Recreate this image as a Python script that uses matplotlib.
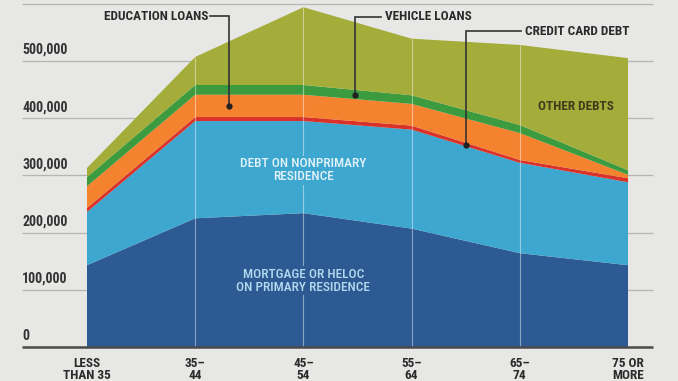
import numpy as np
import matplotlib
matplotlib.use("Agg")
import matplotlib.pyplot as plt
from matplotlib import font_manager

# ---- data (thousands of dollars) ----
ages = ["LESS\nTHAN 35", "35–\n44", "45–\n54", "55–\n64", "65–\n74", "75 OR\nMORE"]
mortgage = [143, 225, 234, 207, 164, 143]
nonprimary = [93, 170, 161, 173, 158, 145]
credit_card = [7, 7, 7, 7, 5, 7]
education = [38, 39, 39, 38, 47, 6]
vehicle = [16, 17, 17, 15, 14, 8]
other = [16, 49, 136, 99, 140, 196]
y_ticks = [0, 100, 200, 300, 400, 500]
y_tick_labels = ["0", "100,000", "200,000", "300,000", "400,000", "500,000"]

series = [mortgage, nonprimary, credit_card, education, vehicle, other]
colors = ["#2d5a92", "#3ea7d0", "#d8322a", "#f5822f", "#3b9b3e", "#a4ac3a"]

available = {f.name for f in font_manager.fontManager.ttflist}
cands = ["Roboto Condensed", "Liberation Sans Narrow", "DejaVu Sans Condensed",
         "Open Sans Condensed", "Roboto", "Lato", "DejaVu Sans"]
FONT = [c for c in cands if c in available] or ["DejaVu Sans"]
plt.rcParams["font.family"] = FONT

bg = "#e7e7e5"
fig = plt.figure(figsize=(6.78, 3.81), dpi=100, facecolor=bg)
ax = fig.add_axes([0, 0, 1, 1], facecolor=bg)
ax.set_xlim(-0.804, 5.462)
ax.set_ylim(-59.4, 606.6)
ax.axis("off")

x = np.arange(len(ages))
for v in y_ticks[1:] + [600]:
    ax.hlines(v, -0.60, 5.23, color="#b5b5b5", lw=0.9, zorder=0)
ax.hlines(0, -0.60, 5.23, color="#4a4a4a", lw=1.8, zorder=5)
for v, lab in zip(y_ticks, y_tick_labels):
    ax.text(-0.60, v + 7, lab, ha="left", va="bottom", fontsize=10,
            color="#333333", fontweight="bold")

ax.stackplot(x, *series, colors=colors, linewidth=0, zorder=2)

cum = np.cumsum(np.array(series), axis=0)
total = cum[-1]
for xi in x[1:-1]:
    ax.vlines(xi, 0, total[xi], color="white", lw=0.8, alpha=0.45, zorder=3)

for xi, lab in zip(x, ages):
    ax.text(xi, -17, lab, ha="center", va="top", fontsize=9.5, color="#2a2a2a",
            fontweight="bold", linespacing=0.95)

ax.text(2.0, 309, "DEBT ON NONPRIMARY\nRESIDENCE", ha="center", va="center",
        fontsize=9.6, color="#e2f2f9", linespacing=1.0, zorder=4, fontweight="medium",
        bbox=dict(facecolor=colors[1], edgecolor="none", pad=1))
ax.text(2.0, 116, "MORTGAGE OR HELOC\nON PRIMARY RESIDENCE", ha="center", va="center",
        fontsize=9.6, color="#b3d9ee", linespacing=1.0, zorder=4, fontweight="medium",
        bbox=dict(facecolor=colors[0], edgecolor="none", pad=1))
ax.text(4.52, 420, "OTHER DEBTS", ha="center", va="center", fontsize=9.5,
        color="#3d3d1c", fontweight="bold", zorder=4)

def band_mid(layer, xv):
    lo = np.interp(xv, x, cum[layer - 1]) if layer > 0 else 0
    hi = np.interp(xv, x, cum[layer])
    return (lo + hi) / 2

def callout(text, tx, ty, ha, layer, dot_x):
    ax.text(tx, ty, text, ha=ha, va="center", fontsize=9.5, color="#2a2a2a",
            fontweight="bold", zorder=6)
    dy = band_mid(layer, dot_x)
    start = tx + (0.02 if ha == "right" else -0.04)
    ax.plot([start, dot_x, dot_x], [ty, ty, dy], color="#333333", lw=1.2,
            zorder=6, solid_joinstyle="miter")
    ax.plot([dot_x], [dy], "o", color="#222222", ms=3.5, zorder=7)

callout("EDUCATION LOANS", 1.118, 578, "right", 3, 1.312)
callout("VEHICLE LOANS", 2.754, 577, "left", 4, 2.477)
callout("CREDIT CARD DEBT", 4.048, 552, "left", 2, 3.503)

fig.savefig("out.png", dpi=100, facecolor=bg)
